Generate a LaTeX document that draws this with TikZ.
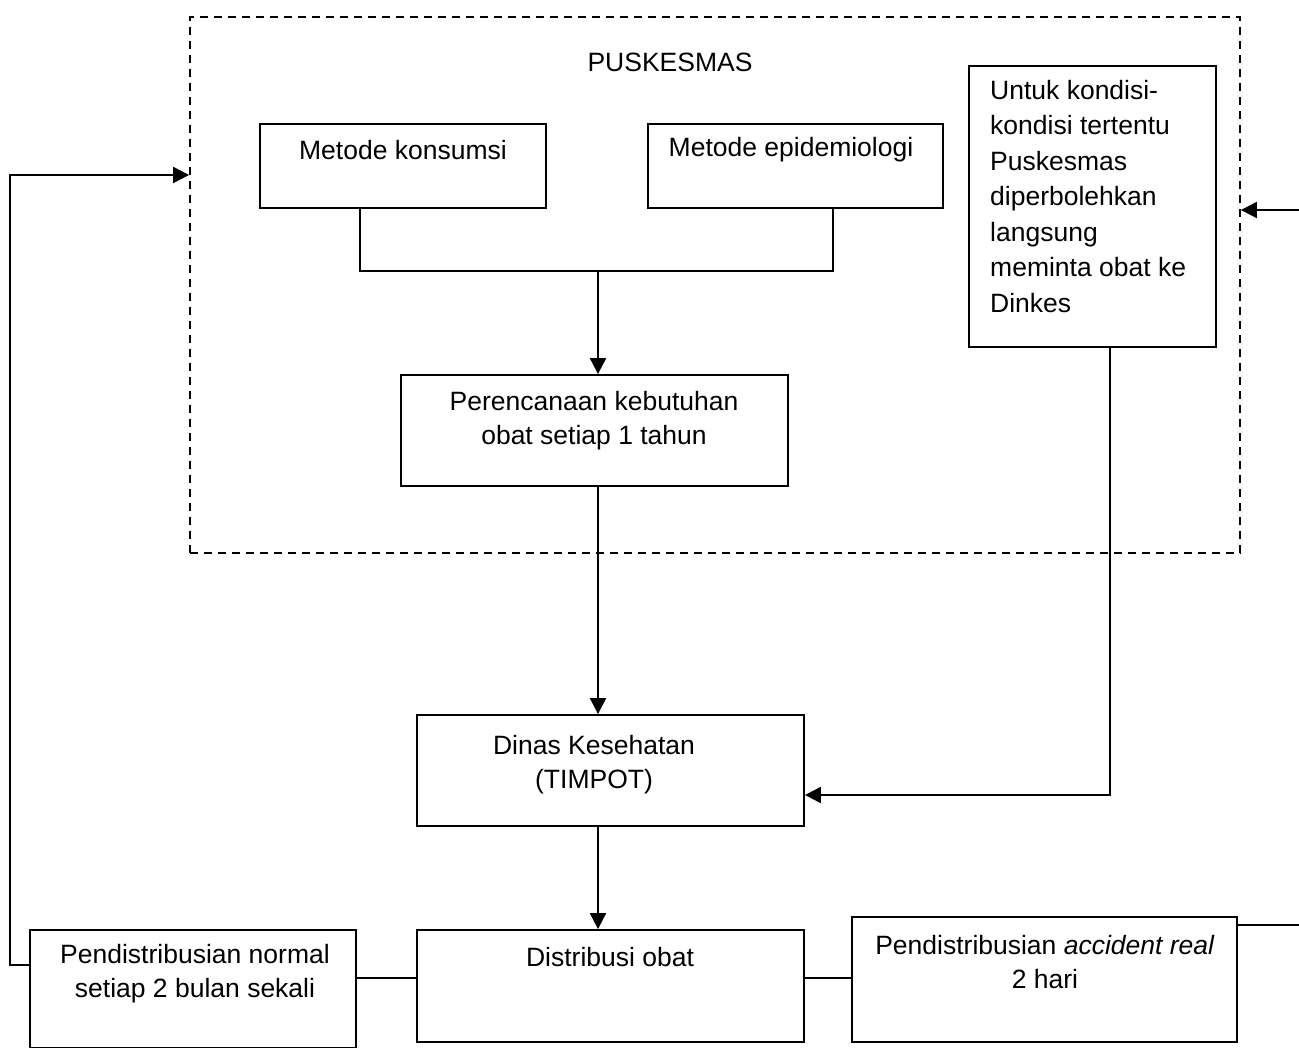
\documentclass[tikz,border=0pt]{standalone}
\usepackage{fontspec}
\setmainfont{Liberation Sans}
\usetikzlibrary{arrows.meta,calc}
\tikzset{
  box/.style={draw, line width=1.8pt, rectangle, inner sep=0pt},
  txt/.style={font=\fontsize{26.5}{34}\selectfont, align=center, inner sep=0pt},
  conn/.style={line width=2pt},
  arr/.style={line width=2pt, -{Triangle[length=16pt,width=16pt]}},
  frame/.style={draw, line width=1.8pt, dash pattern=on 8pt off 6pt, rectangle, inner sep=0pt}
}
\begin{document}
\begin{tikzpicture}[x=1pt,y=-1pt]
\useasboundingbox (0,0) rectangle (1299,1048);
% frame
\node[frame, minimum width=1050pt, minimum height=536pt] (pusk) at (715,285) {};
\node[txt] (ptitle) at (670,62) {PUSKESMAS};
% boxes
\node[box, minimum width=286pt, minimum height=84pt] (mk) at (403,166) {};
\node[txt] (mkt) at (403,150) {Metode konsumsi};
\node[box, minimum width=295pt, minimum height=84pt] (me) at (795.5,166) {};
\node[txt] (met) at (791,150) {Metode epidemiologi};
\node[box, minimum width=387pt, minimum height=111pt] (per) at (594.5,430.5) {};
\node[txt] (pert) at (594,421) {Perencanaan kebutuhan\\obat setiap 1 tahun};
\node[box, minimum width=247pt, minimum height=281pt] (unt) at (1092.5,206.5) {};
\node[txt, align=left, anchor=north west, font=\fontsize{26.5}{35.5}\selectfont] (untt) at (990,80) {Untuk kondisi-\\kondisi tertentu\\Puskesmas\\diperbolehkan\\langsung\\meminta obat ke\\Dinkes};
\node[box, minimum width=387pt, minimum height=111pt] (din) at (610.5,770.5) {};
\node[txt] (dint) at (594,765) {Dinas Kesehatan\\(TIMPOT)};
\node[box, minimum width=387pt, minimum height=112pt] (dis) at (610.5,986) {};
\node[txt] (dist) at (610,957) {Distribusi obat};
\node[box, minimum width=326pt, minimum height=118pt] (nor) at (193,989) {};
\node[txt] (nort) at (195,974) {Pendistribusian normal\\setiap 2 bulan sekali};
\node[box, minimum width=385pt, minimum height=125pt] (acc) at (1044.5,979.5) {};
\node[txt] (acct) at (1045,962) {Pendistribusian \textit{accident real}\\2 hari};
% connectors
\coordinate (j) at (598,271);
\draw[conn] ([xshift=-43pt]mk.south) |- (j) -| ([xshift=37.5pt]me.south);
\draw[arr] (j) -- (per.north -| j);
\draw[arr] (per.south -| j) -- (din.north -| j);
\draw[arr] (din.south -| j) -- (dis.north -| j);
\coordinate (uk) at (1110,795);
\draw[arr] (unt.south -| uk) -- (uk) -- (din.east |- uk);
\draw[conn] (nor.east |- 0,978) -- (dis.west |- 0,978);
\draw[conn] (dis.east |- 0,978) -- (acc.west |- 0,978);
\coordinate (lb) at (10,965);
\coordinate (lt) at (10,175);
\draw[arr] (nor.west |- lb) -- (lb) -- (lt) -- (pusk.west |- lt);
\coordinate (re) at (1299,925);
\draw[conn] (acc.east |- re) -- (re);
\coordinate (ra) at (1299,210);
\draw[arr] (ra) -- (pusk.east |- ra);
\end{tikzpicture}
\end{document}
